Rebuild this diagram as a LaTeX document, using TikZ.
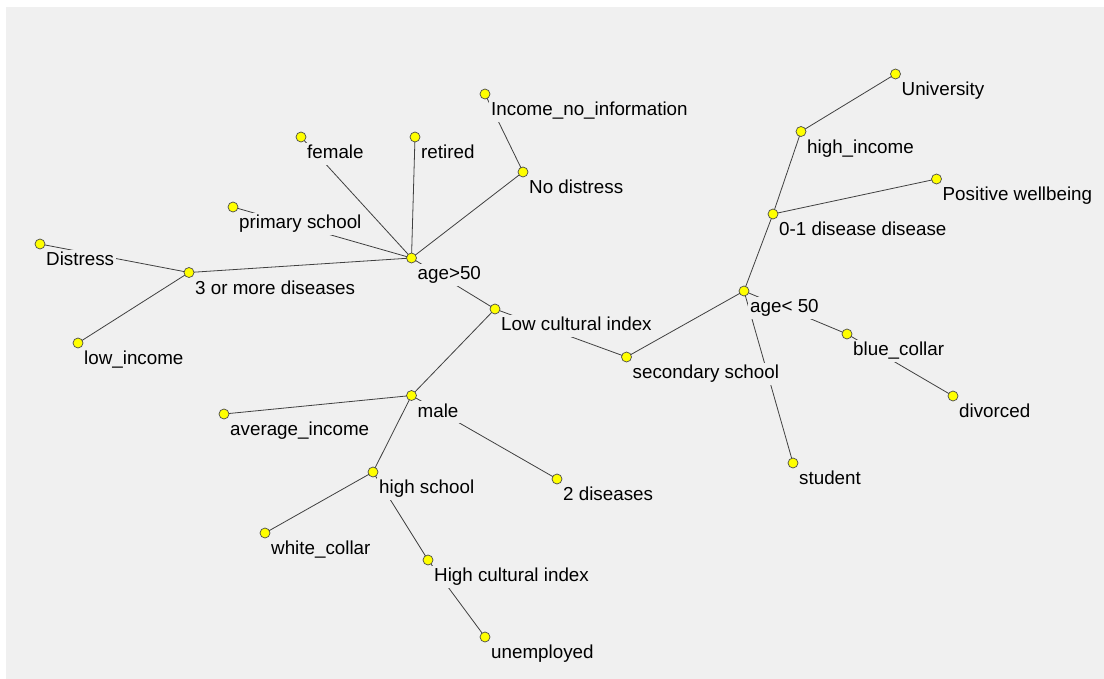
\documentclass[tikz,border=0pt]{standalone}
\usepackage{fontspec}
\setmainfont{Liberation Sans}
\usetikzlibrary{calc}
\definecolor{bgc}{HTML}{F0F0F0}
\definecolor{dotc}{HTML}{FFFF00}
\pgfdeclarelayer{bglayer}
\pgfdeclarelayer{edgelayer}
\pgfdeclarelayer{frontlayer}
\pgfsetlayers{bglayer,edgelayer,main,frontlayer}
\tikzset{
  dotnode/.style={circle, minimum size=10pt, inner sep=0pt, fill=dotc, draw=black!70, line width=0.7pt},
  lab/.style={anchor=base west, fill=bgc, inner sep=2pt, text height=14pt, text depth=4pt, font=\fontsize{18.8}{20}\selectfont},
  edge/.style={draw=black!75, line width=0.8pt}
}
\begin{document}
\begin{tikzpicture}[x=1pt,y=-1pt]
\useasboundingbox (0,0) rectangle (1104,678);
\begin{pgfonlayer}{bglayer}
\fill[white] (-5,-5) rectangle (1110,684);
\fill[bgc] (6,7) rectangle (1112,686);
\end{pgfonlayer}
\begin{pgfonlayer}{frontlayer}
\node[dotnode] (inc) at (485,94) {};
\node[dotnode] (nod) at (523,172) {};
\node[dotnode] (fem) at (301,137) {};
\node[dotnode] (ret) at (415,137) {};
\node[dotnode] (pri) at (233,207) {};
\node[dotnode] (a50) at (411.5,258) {};
\node[dotnode] (dis) at (40,244) {};
\node[dotnode] (tmd) at (189,272.5) {};
\node[dotnode] (low) at (78,343) {};
\node[dotnode] (lci) at (495,309) {};
\node[dotnode] (sec) at (626.5,357) {};
\node[dotnode] (ayl) at (744,291) {};
\node[dotnode] (dzo) at (773,214) {};
\node[dotnode] (hin) at (801,131.5) {};
\node[dotnode] (uni) at (895.5,74) {};
\node[dotnode] (pos) at (936.5,179) {};
\node[dotnode] (blu) at (847,334) {};
\node[dotnode] (div) at (953,396) {};
\node[dotnode] (stu) at (793,463) {};
\node[dotnode] (mal) at (411.5,395.5) {};
\node[dotnode] (avg) at (224,414) {};
\node[dotnode] (two) at (557,479) {};
\node[dotnode] (hsc) at (373,472) {};
\node[dotnode] (whi) at (265,533) {};
\node[dotnode] (hci) at (428,560) {};
\node[dotnode] (une) at (485,637) {};
\end{pgfonlayer}
\begin{pgfonlayer}{edgelayer}
\draw[edge] (inc.center) -- (nod.center);
\draw[edge] (nod.center) -- (a50.center);
\draw[edge] (fem.center) -- (a50.center);
\draw[edge] (ret.center) -- (a50.center);
\draw[edge] (pri.center) -- (a50.center);
\draw[edge] (tmd.center) -- (a50.center);
\draw[edge] (dis.center) -- (tmd.center);
\draw[edge] (low.center) -- (tmd.center);
\draw[edge] (a50.center) -- (lci.center);
\draw[edge] (lci.center) -- (mal.center);
\draw[edge] (lci.center) -- (sec.center);
\draw[edge] (sec.center) -- (ayl.center);
\draw[edge] (ayl.center) -- (dzo.center);
\draw[edge] (dzo.center) -- (hin.center);
\draw[edge] (hin.center) -- (uni.center);
\draw[edge] (dzo.center) -- (pos.center);
\draw[edge] (ayl.center) -- (blu.center);
\draw[edge] (blu.center) -- (div.center);
\draw[edge] (ayl.center) -- (stu.center);
\draw[edge] (mal.center) -- (avg.center);
\draw[edge] (mal.center) -- (two.center);
\draw[edge] (mal.center) -- (hsc.center);
\draw[edge] (hsc.center) -- (whi.center);
\draw[edge] (hsc.center) -- (hci.center);
\draw[edge] (hci.center) -- (une.center);
\end{pgfonlayer}
\node[lab] (incL) at ($(inc)+(4,21.5)$) {Income\_no\_information};
\node[lab] (nodL) at ($(nod)+(4,21.5)$) {No distress};
\node[lab] (femL) at ($(fem)+(4,21.5)$) {female};
\node[lab] (retL) at ($(ret)+(4,21.5)$) {retired};
\node[lab] (priL) at ($(pri)+(4,21.5)$) {primary school};
\node[lab] (a50L) at ($(a50)+(4,21.5)$) {age>50};
\node[lab] (disL) at ($(dis)+(4,21.5)$) {Distress};
\node[lab] (tmdL) at ($(tmd)+(4,21.5)$) {3 or more diseases};
\node[lab] (lowL) at ($(low)+(4,21.5)$) {low\_income};
\node[lab] (lciL) at ($(lci)+(4,21.5)$) {Low cultural index};
\node[lab] (secL) at ($(sec)+(4,21.5)$) {secondary school};
\node[lab] (aylL) at ($(ayl)+(4,21.5)$) {age< 50};
\node[lab] (dzoL) at ($(dzo)+(4,21.5)$) {0-1 disease disease};
\node[lab] (hinL) at ($(hin)+(4,21.5)$) {high\_income};
\node[lab] (uniL) at ($(uni)+(4,21.5)$) {University};
\node[lab] (posL) at ($(pos)+(4,21.5)$) {Positive wellbeing};
\node[lab] (bluL) at ($(blu)+(4,21.5)$) {blue\_collar};
\node[lab] (divL) at ($(div)+(4,21.5)$) {divorced};
\node[lab] (stuL) at ($(stu)+(4,21.5)$) {student};
\node[lab] (malL) at ($(mal)+(4,21.5)$) {male};
\node[lab] (avgL) at ($(avg)+(4,21.5)$) {average\_income};
\node[lab] (twoL) at ($(two)+(4,21.5)$) {2 diseases};
\node[lab] (hscL) at ($(hsc)+(4,21.5)$) {high school};
\node[lab] (whiL) at ($(whi)+(4,21.5)$) {white\_collar};
\node[lab] (hciL) at ($(hci)+(4,21.5)$) {High cultural index};
\node[lab] (uneL) at ($(une)+(4,21.5)$) {unemployed};
\end{tikzpicture}
\end{document}
